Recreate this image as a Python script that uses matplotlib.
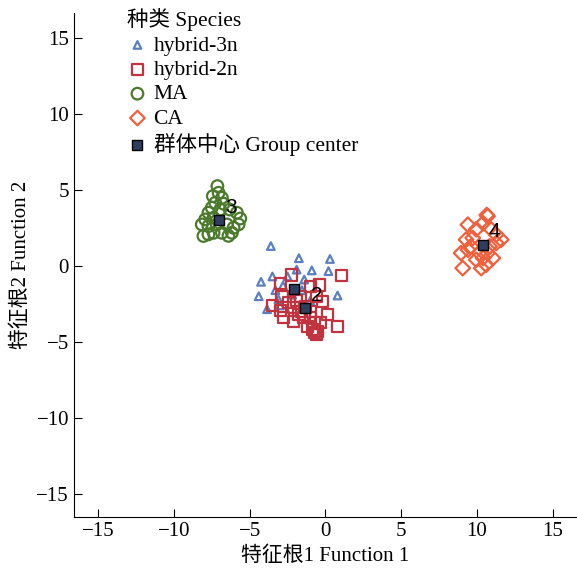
import numpy as np
import matplotlib.pyplot as plt

plt.rcParams['font.family'] = ['Liberation Serif', 'Noto Sans CJK SC']
plt.rcParams['axes.unicode_minus'] = True

# hybrid-3n
h3_x = [-3.6, -1.75, 0.3, -0.9, 0.2, -1.9, -4.25, -3.5, -2.5, -1.4, -4.4, -3.3,
        -3.85, 0.8, -1.55, -3.1, -2.8, -2.2, -3.0, -1.0]
h3_y = [1.3, 0.5, 0.45, -0.3, -0.35, -0.25, -1.05, -0.7, -0.7, -0.9, -2.0, -1.6,
        -2.85, -1.95, -1.6, -2.2, -1.3, -1.9, -2.6, -2.3]

# hybrid-2n
h2_x = [-2.26, 1.07, -2.97, -0.38, -0.98, -1.64, -2.86, -0.2, -3.5, -2.97, -2.13,
        0.12, -2.75, -1.75, -0.98, -2.09, -1.42, -0.76, -1.2, -0.87, -0.54, 0.81,
        -1.9, -1.3, -1.0, -2.4, -0.6, -1.6, -0.3, -0.7, -0.6]
h2_y = [-0.6, -0.63, -1.14, -1.26, -1.36, -2.0, -2.0, -2.35, -2.63, -2.96, -2.73,
        -3.22, -3.38, -3.22, -3.38, -3.67, -3.42, -3.73, -3.99, -4.16, -4.32, -3.99,
        -2.3, -2.7, -3.0, -2.4, -2.0, -3.0, -3.7, -4.4, -4.5]

# MA
ma_x = [-7.13, -7.05, -7.43, -6.83, -7.27, -6.72, -7.5, -6.94, -7.72, -6.32, -5.84,
        -5.62, -7.38, -7.93, -8.16, -7.72, -7.17, -6.5, -6.06, -5.73, -7.72, -8.05,
        -7.38, -6.83, -6.17, -6.4]
ma_y = [5.24, 4.8, 4.58, 4.47, 4.14, 4.08, 3.82, 3.7, 3.49, 3.7, 3.49,
        3.11, 3.16, 3.05, 2.72, 2.61, 2.72, 2.72, 2.5, 2.72, 2.07, 1.96,
        2.17, 2.17, 2.17, 1.97]

# CA
ca_x = [10.65, 10.7, 10.4, 9.4, 9.95, 10.83, 11.6, 11.27, 9.72, 9.28, 9.6, 10.83,
        11.27, 8.95, 9.4, 10.16, 10.7, 9.95, 10.4, 9.06, 10.28, 10.6, 11.05]
ca_y = [3.34, 3.26, 2.8, 2.7, 2.4, 2.5, 1.72, 2.05, 1.83, 1.72, 1.28, 1.28,
        1.5, 0.84, 1.06, 0.84, 0.84, 0.4, 0.51, -0.15, -0.15, 0.07, 0.51]

# group centers
cen_x = [-2.09, -1.36, -6.99, 10.38]
cen_y = [-1.54, -2.76, 3.03, 1.4]
cen_lab = ['1', '2', '3', '4']

fig = plt.figure(figsize=(5.77, 5.75), dpi=100)
ax = fig.add_axes([0.128, 0.101, 0.872, 0.876])

ax.scatter(h3_x, h3_y, marker='^', s=30, facecolors='none', edgecolors='#5b80c2',
           linewidths=1.6, label='hybrid-3n')
ax.scatter(h2_x, h2_y, marker='s', s=65, facecolors='none', edgecolors='#c0333f',
           linewidths=1.6, label='hybrid-2n')
ax.scatter(ma_x, ma_y, marker='o', s=70, facecolors='none', edgecolors='#4c7a2c',
           linewidths=1.6, label='MA')
ax.scatter(ca_x, ca_y, marker='D', s=55, facecolors='none', edgecolors='#f0603c',
           linewidths=1.6, label='CA')
ax.scatter(cen_x, cen_y, marker='s', s=45, facecolors='#2f3d5e', edgecolors='black',
           linewidths=1.0, label='群体中心 Group center', zorder=5)
for x, y, t in zip(cen_x[1:], cen_y[1:], cen_lab[1:]):
    ax.text(x + 0.4, y + 0.2, t, fontsize=15, family='Liberation Sans',
            ha='left', va='bottom', zorder=6)

ax.set_xlim(-16.6, 16.6)
ax.set_ylim(-16.5, 16.6)
ax.set_xticks([-15, -10, -5, 0, 5, 10, 15])
ax.set_yticks([-15, -10, -5, 0, 5, 10, 15])
ax.tick_params(direction='in', length=6, labelsize=15)
ax.spines['top'].set_visible(False)
ax.spines['right'].set_visible(False)
ax.set_xlabel('特征根1 Function 1', fontsize=15)
ax.set_ylabel('特征根2 Function 2', fontsize=15)

leg = ax.legend(loc='upper left', bbox_to_anchor=(0.105, 1.01), frameon=False,
                title='种类 Species', fontsize=15.5, title_fontsize=15.5,
                handlelength=1.0, handletextpad=0.25, labelspacing=0.2,
                borderaxespad=0, borderpad=0)
leg._legend_box.align = 'left'

plt.savefig('out.png', dpi=100)
